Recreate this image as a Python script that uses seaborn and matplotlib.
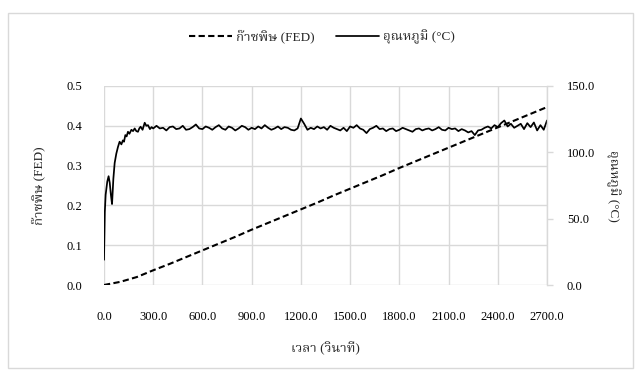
import numpy as np
import pandas as pd
import seaborn as sns
import matplotlib
matplotlib.use("Agg")
import matplotlib.pyplot as plt
from matplotlib import font_manager
from matplotlib.ft2font import FT2Font
from matplotlib.patches import Rectangle

# Data
fed_time = [0, 100, 200, 300, 400, 500, 600, 700, 800, 900, 1000, 1100, 1200, 1300,
            1400, 1500, 1600, 1700, 1800, 1900, 2000, 2100, 2200, 2300, 2400, 2500,
            2600, 2700]
fed_value = [0.0, 0.008, 0.02, 0.037, 0.053, 0.07, 0.087, 0.104, 0.121, 0.139, 0.156,
             0.173, 0.19, 0.207, 0.225, 0.242, 0.259, 0.276, 0.294, 0.311, 0.328,
             0.345, 0.362, 0.379, 0.396, 0.413, 0.43, 0.447]

# temperature, first 300 s (irregular sampling of the start-up)
temp_time_start = [0, 5, 10, 20, 28, 35, 42, 49, 57, 65, 75, 85, 95, 106, 115, 122, 130,
                   138, 146, 155, 167, 177, 187, 197, 207, 215, 223, 235, 248, 258, 268,
                   280, 290, 300]
temp_start = [19, 55, 68, 78, 82, 77, 68, 61, 80, 92, 99, 104, 108, 106, 109, 108, 113,
              112, 115.5, 114, 117, 116, 118, 116, 115.5, 118, 119.3, 117, 122.3, 120,
              120.5, 117.5, 119, 118]
# temperature, every 20 s from 320 s to 2700 s
temp_rest = [120, 118, 118.5, 116.5, 119, 119.5, 117.5, 118, 120, 117,
             117.5, 119, 121, 118, 117.5, 119.5, 118.5, 117, 119, 120.5,
             118, 117, 119.5, 118.5, 116.5, 118, 120, 119, 117, 118.5,
             117.5, 119.5, 118, 120.5, 118.5, 117, 118, 119.5, 117.5, 119,
             118.5, 117, 116.5, 118, 125.5, 121.5, 117, 118.5, 117.5, 119.5,
             118, 119, 117, 120, 118.5, 117.5, 116.5, 118.5, 116, 119.5,
             118.5, 120.5, 118, 117, 114.5, 117.5, 118.5, 120, 117.5, 118,
             116, 117.5, 118, 116, 117, 118.5, 117.5, 116.5, 115.5, 117.5,
             118, 116.5, 117.5, 118, 116.5, 117.5, 119, 117, 116.5, 118.5,
             117.5, 118, 116, 117.5, 116.5, 115, 116, 113, 116.5, 117,
             118.5, 119.5, 118, 120.5, 119, 122, 124, 119.5, 121.5, 118.5,
             120, 121.5, 117.5, 122, 119, 122.5, 116.5, 120.5, 117, 124]
temp_time = temp_time_start + list(range(320, 2701, 20))
temp_value = temp_start + temp_rest

x_ticks = [0, 300, 600, 900, 1200, 1500, 1800, 2100, 2400, 2700]
left_ticks = [0.0, 0.1, 0.2, 0.3, 0.4, 0.5]
right_ticks = [0, 50, 100, 150]

label_fed = "ก๊าซพิษ (FED)"
label_temp = "อุณหภูมิ (°C)"
label_x = "เวลา (วินาที)"


def find_thai_font():
    prefer = ["Norasi", "Kinnari", "Noto Serif Thai", "Noto Sans Thai", "Loma",
              "Garuda", "Tlwg Typo", "Waree", "Umpush", "Sawasdee"]
    found = {}
    for f in font_manager.fontManager.ttflist:
        if f.name in found:
            continue
        try:
            if 0x0E01 in FT2Font(f.fname).get_charmap():
                found[f.name] = f.fname
        except Exception:
            pass
    for name in prefer:
        if name in found:
            return name
    return sorted(found)[0] if found else None


sns.set_theme(style="white")
thai = find_thai_font()
families = ["Liberation Serif"] + ([thai] if thai else []) + ["DejaVu Sans"]
plt.rcParams["font.family"] = families
plt.rcParams["font.size"] = 9

df_fed = pd.DataFrame({"time": fed_time, "fed": fed_value})
df_temp = pd.DataFrame({"time": temp_time, "temp": temp_value})

W, H = 641, 374
fig = plt.figure(figsize=(W / 100, H / 100), dpi=100)
ax = fig.add_axes([104 / W, 1 - 285 / H, (547 - 104) / W, (285 - 86) / H])
ax2 = ax.twinx()

grid_c = "#d9d9d9"

sns.lineplot(data=df_fed, x="time", y="fed", ax=ax, color="black", lw=1.5,
             linestyle=(0, (3, 1.6)), label=label_fed, legend=False)
sns.lineplot(data=df_temp, x="time", y="temp", ax=ax2, color="black", lw=1.25,
             label=label_temp, legend=False)

ax.set_xlim(0, 2700)
ax.set_ylim(0, 0.5)
ax2.set_ylim(0, 150)
ax.set_xticks(x_ticks)
ax.set_xticklabels([f"{v:.1f}" for v in x_ticks])
ax.set_yticks(left_ticks)
ax.set_yticklabels([f"{v:.1f}" for v in left_ticks])
ax2.set_yticks(right_ticks)
ax2.set_yticklabels([f"{v:.1f}" for v in right_ticks])

ax.grid(True, color=grid_c, lw=1.0)
ax.set_axisbelow(True)
for s in ["left", "bottom", "top", "right"]:
    ax.spines[s].set_visible(False)
    ax2.spines[s].set_visible(False)
ax2.spines["right"].set_visible(True)
ax2.spines["right"].set_color(grid_c)
ax2.spines["right"].set_linewidth(1.0)

ax.tick_params(axis="both", length=0, labelsize=9, colors="black")
ax.tick_params(axis="x", pad=19)
ax.tick_params(axis="y", pad=16)
ax2.tick_params(axis="y", length=4.3, width=1.0, color=grid_c, direction="out",
                pad=10, labelsize=9, right=True, labelcolor="black")

ax.set_xlabel(label_x, fontsize=9.5)
ax.set_ylabel(label_fed, fontsize=9.5)
ax2.set_ylabel(label_temp, fontsize=9.5, rotation=270)
ax.xaxis.set_label_coords(0.5, -(342 - 285) / (285 - 86))
ax.yaxis.set_label_coords(-(104 - 45) / (547 - 104), 0.5)
ax2.yaxis.set_label_coords(1 + (621 - 547) / (547 - 104), 0.5)

h1, l1 = ax.get_legend_handles_labels()
h2, l2 = ax2.get_legend_handles_labels()
fig.legend(h1 + h2, l1 + l2, loc="center", bbox_to_anchor=(322 / W, 1 - 37 / H),
           ncol=2, frameon=False, fontsize=9.5, handlelength=3.3, columnspacing=1.6,
           handletextpad=0.3)

fig.add_artist(Rectangle((8 / W, 6 / H), (633 - 8) / W, (368 - 13) / H,
                         transform=fig.transFigure, fill=False, edgecolor=grid_c, lw=1.0))

fig.savefig("out.png", dpi=100)
